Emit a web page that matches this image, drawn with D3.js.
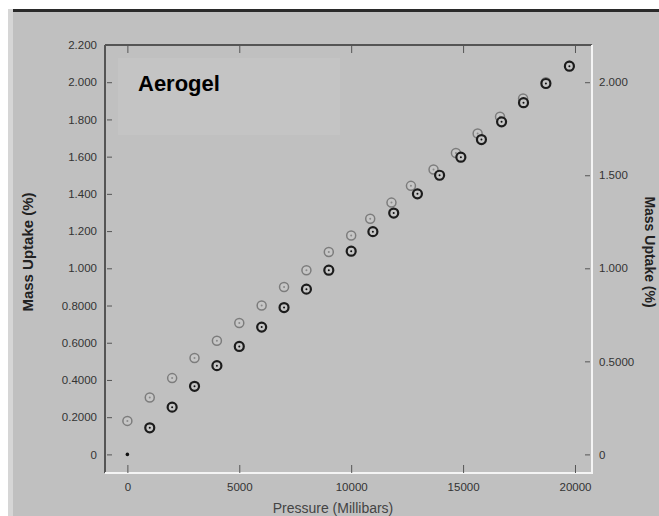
<!DOCTYPE html>
<html>
<head>
<meta charset="utf-8">
<script src="https://cdn.jsdelivr.net/npm/d3@7"></script>
<style>
  html, body { margin: 0; padding: 0; background: #ffffff; }
  svg { display: block; font-family: "Liberation Sans", Arial, sans-serif; }
</style>
</head>
<body>
<svg id="chart" width="659" height="516"></svg>
<script>
// pressure (millibars) and mass uptake (%)
var darkPressure = [0, 1000, 2000, 3000, 4000, 5000, 6000, 7000, 8000, 9000, 10000,
                    10970, 11900, 12960, 13950, 14900, 15820, 16720, 17700, 18700, 19750];
var darkUptake = [0, 0.143, 0.254, 0.366, 0.477, 0.58, 0.684, 0.789, 0.888, 0.99, 1.092,
                  1.197, 1.297, 1.40, 1.50, 1.597, 1.692, 1.787, 1.89, 1.993, 2.086];
var grayPressure = [0, 1000, 2000, 3000, 4000, 5000, 6000, 7000, 8000, 9000, 10000,
                    10850, 11800, 12670, 13680, 14680, 15650, 16650, 17680, 18700, 19750];
var grayUptake = [0.18, 0.306, 0.41, 0.518, 0.611, 0.706, 0.80, 0.90, 0.99, 1.088, 1.176,
                  1.266, 1.353, 1.443, 1.531, 1.62, 1.724, 1.815, 1.913, 2.0, 2.088];

var xTicks = [0, 5000, 10000, 15000, 20000];
var leftTicks = [0, 0.2, 0.4, 0.6, 0.8, 1.0, 1.2, 1.4, 1.6, 1.8, 2.0, 2.2];
var leftTickLabels = ["0", "0.2000", "0.4000", "0.6000", "0.8000", "1.000",
                      "1.200", "1.400", "1.600", "1.800", "2.000", "2.200"];
var rightTicks = [0, 0.5, 1.0, 1.5, 2.0];
var rightTickLabels = ["0", "0.5000", "1.000", "1.500", "2.000"];

var svg = d3.select("#chart");
var W = 659, H = 516;
var frame = {left: 105, top: 45, right: 592, bottom: 473};

// window background + edges
svg.append("rect").attr("width", W).attr("height", H).attr("fill", "#ffffff");
svg.append("rect").attr("x", 8).attr("y", 9).attr("width", W - 8).attr("height", H - 9).attr("fill", "#d6d6d6");
svg.append("rect").attr("x", 13).attr("y", 12).attr("width", W - 13).attr("height", H - 12).attr("fill", "#c0c0c0");
svg.append("rect").attr("x", 13).attr("y", 9).attr("width", W - 13).attr("height", 3).attr("fill", "#2a2a2a");

var x = d3.scaleLinear().domain([-1000, 20760]).range([frame.left, frame.right]);
var y = d3.scaleLinear().domain([-0.1, 2.2]).range([frame.bottom, frame.top]);

// title box (faint)
svg.append("rect").attr("x", 118).attr("y", 58).attr("width", 222).attr("height", 77)
    .attr("fill", "#c4c4c4");
svg.append("text").attr("x", 138).attr("y", 91)
    .attr("font-size", 22).attr("font-weight", "bold").attr("fill", "#000")
    .text("Aerogel");

// frame: dark left/top, white right/bottom
svg.append("line").attr("x1", frame.left).attr("x2", frame.left)
    .attr("y1", frame.top).attr("y2", frame.bottom).attr("stroke", "#555").attr("stroke-width", 2);
svg.append("line").attr("x1", frame.left).attr("x2", frame.right)
    .attr("y1", frame.top).attr("y2", frame.top).attr("stroke", "#555").attr("stroke-width", 2);
svg.append("line").attr("x1", frame.right).attr("x2", frame.right)
    .attr("y1", frame.top).attr("y2", frame.bottom + 1).attr("stroke", "#f4f4f4").attr("stroke-width", 2);
svg.append("line").attr("x1", frame.left).attr("x2", frame.right)
    .attr("y1", frame.bottom).attr("y2", frame.bottom).attr("stroke", "#f4f4f4").attr("stroke-width", 2);

function styleAxis(g, fill) {
    g.select(".domain").remove();
    g.selectAll(".tick line").attr("stroke", "#555");
    g.selectAll(".tick text").attr("fill", fill || "#333").attr("font-size", 11.5);
}

// left axis, ticks inside
svg.append("g").attr("transform", "translate(" + frame.left + ",0)")
    .call(d3.axisRight(y).tickValues(leftTicks).tickSize(7)
        .tickFormat(function(d, i) { return leftTickLabels[i]; }))
    .call(styleAxis)
    .call(function(g) {
        g.selectAll(".tick line").attr("x1", 2);
        g.selectAll(".tick text").attr("x", -8).attr("text-anchor", "end");
    });

// right axis, ticks inside
svg.append("g").attr("transform", "translate(" + frame.right + ",0)")
    .call(d3.axisLeft(y).tickValues(rightTicks).tickSize(7)
        .tickFormat(function(d, i) { return rightTickLabels[i]; }))
    .call(styleAxis)
    .call(function(g) {
        g.selectAll(".tick line").attr("x1", -2);
        g.selectAll(".tick text").attr("x", 7).attr("text-anchor", "start");
    });

// bottom axis, ticks point up
svg.append("g").attr("transform", "translate(0," + frame.bottom + ")")
    .call(d3.axisTop(x).tickValues(xTicks).tickSize(8).tickFormat(d3.format("d")))
    .call(styleAxis)
    .call(function(g) {
        g.selectAll(".tick text").attr("y", 18).attr("dy", 0);
    });

// top ticks, no labels
svg.append("g").attr("transform", "translate(0," + frame.top + ")")
    .call(d3.axisBottom(x).tickValues(xTicks).tickSize(8).tickFormat(""))
    .call(styleAxis);

// axis titles
svg.append("text").attr("transform", "translate(33,252) rotate(-90)")
    .attr("text-anchor", "middle").attr("font-size", 15).attr("font-weight", "bold")
    .attr("fill", "#222").text("Mass Uptake (%)");
svg.append("text").attr("transform", "translate(645,252) rotate(90)")
    .attr("text-anchor", "middle").attr("font-size", 14).attr("font-weight", "bold")
    .attr("fill", "#222").text("Mass Uptake (%)");
svg.append("text").attr("x", 333).attr("y", 513)
    .attr("text-anchor", "middle").attr("font-size", 14).attr("fill", "#444")
    .text("Pressure (Millibars)");

// markers
function drawSeries(px, py, stroke, sw, dotFill) {
    var pts = px.map(function(p, i) { return {p: p, v: py[i]}; });
    var g = svg.append("g");
    g.selectAll("circle.ring").data(pts.filter(function(d) { return d.v > 0; }))
        .enter().append("circle").attr("class", "ring")
        .attr("cx", function(d) { return x(d.p); })
        .attr("cy", function(d) { return y(d.v); })
        .attr("r", 4.5).attr("fill", "#c6c6c6")
        .attr("stroke", stroke).attr("stroke-width", sw);
    g.selectAll("circle.dot").data(pts)
        .enter().append("circle").attr("class", "dot")
        .attr("cx", function(d) { return x(d.p); })
        .attr("cy", function(d) { return y(d.v); })
        .attr("r", function(d) { return d.v > 0 ? 1 : 1.8; })
        .attr("fill", dotFill);
}
drawSeries(grayPressure, grayUptake, "#7c7c7c", 1.5, "#8a8a8a");
drawSeries(darkPressure, darkUptake, "#1c1c1c", 2.2, "#111");
</script>
</body>
</html>
